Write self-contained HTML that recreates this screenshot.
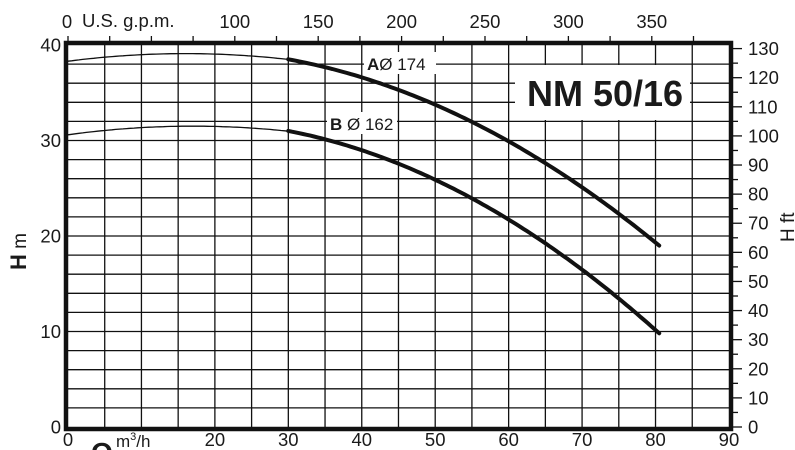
<!DOCTYPE html>
<html><head><style>
html,body{margin:0;padding:0;background:#fff;width:795px;height:450px;overflow:hidden;}
svg{display:block;font-family:"Liberation Sans",Arial,sans-serif;overflow:hidden;}
</style></head><body>
<svg id="s" width="795" height="450" viewBox="0 0 795 450" xmlns="http://www.w3.org/2000/svg">
<g id="grid" stroke="#111" stroke-width="1.3"></g>
<rect x="515" y="65" width="175" height="55" fill="#fff"/>
<text x="527" y="106" font-size="36" font-weight="bold" fill="#1a1a1a">NM 50/16</text>
<g id="curves" fill="none" stroke="#111"></g>
<rect x="364" y="52" width="72" height="22" fill="#fff"/>
<text x="367" y="70" font-size="17" fill="#1a1a1a"><tspan font-weight="bold">A</tspan>Ø 174</text>
<rect x="327" y="112" width="70" height="22" fill="#fff"/>
<text x="330" y="130" font-size="17" fill="#1a1a1a"><tspan font-weight="bold">B</tspan> Ø 162</text>
<rect x="66" y="43" width="665" height="386" fill="none" stroke="#111" stroke-width="4.5"/>
<g id="lab" font-size="18.5" fill="#1a1a1a"></g>
<text x="67" y="28" font-size="18.5" text-anchor="middle" fill="#1a1a1a">0</text>
<text x="82" y="27" font-size="18.5" fill="#1a1a1a">U.S. g.p.m.</text>
<text transform="translate(26,270) rotate(-90)" font-size="19" fill="#1a1a1a"><tspan font-weight="bold" font-size="22">H</tspan> m</text>
<text transform="translate(794,242) rotate(-90)" font-size="19" fill="#1a1a1a">H ft</text>
<text x="91" y="462" font-size="28" font-weight="bold" fill="#1a1a1a">Q</text>
<text x="116" y="447" font-size="17" fill="#1a1a1a">m<tspan font-size="11" dy="-7">3</tspan><tspan dy="7">/h</tspan></text>
</svg>
<script>
var ns="http://www.w3.org/2000/svg";
function el(p,t,a,txt){var e=document.createElementNS(ns,t);for(var k in a)e.setAttribute(k,a[k]);if(txt!=null)e.textContent=txt;document.getElementById(p).appendChild(e);}
var X0=68,XS=7.344,Y0=427,YS=9.55;
function X(q){return X0+q*XS;} function Y(h){return Y0-h*YS;}
for(var q=5;q<90;q+=5)el("grid","line",{x1:X(q),y1:43,x2:X(q),y2:429});
for(var h=2;h<40;h+=2)el("grid","line",{x1:66,y1:Y(h),x2:731,y2:Y(h)});
for(var g=0;g<=375;g+=25){var x=X(g*0.22712);if(x>731)break;el("grid","line",{x1:x,y1:43,x2:x,y2:36});
 if(g%50==0&&g>=100)el("lab","text",{x:x,y:28,"text-anchor":"middle"},g);}
for(var f=0;f<=130;f+=5){var y=Y(f*0.3048);el("grid","line",{x1:731,y1:y,x2:f%10==0?742:738,y2:y});
 if(f%10==0)el("lab","text",{x:748,y:y+6.5},f);}
for(var h=0;h<=40;h+=10)el("lab","text",{x:61,y:Y(h)+6.5,"text-anchor":"end"},h);
for(var q=0;q<=90;q+=10){if(q==10)continue;el("lab","text",{x:X(q),y:446,"text-anchor":"middle"},q);}
function path(fn,qa,qb,w){var d="";for(var q=qa;q<=qb+1e-6;q+=0.5){d+=(d?"L":"M")+X(q).toFixed(1)+" "+Y(fn(q)).toFixed(1);}
 el("curves","path",{d:d,"stroke-width":w,"stroke-linecap":"round"});}
path(function(q){return 39.1-0.003125*(q-16)*(q-16);},0,30,1.3);
path(function(q){return 38.3+0.153*q-0.00488*q*q;},30,80.5,4);
path(function(q){return 31.5-0.00311*(q-17)*(q-17);},0,30,1.3);
path(function(q){return 30.6+0.1748*q-0.00538*q*q;},30,80.5,4);
</script>
</body></html>
